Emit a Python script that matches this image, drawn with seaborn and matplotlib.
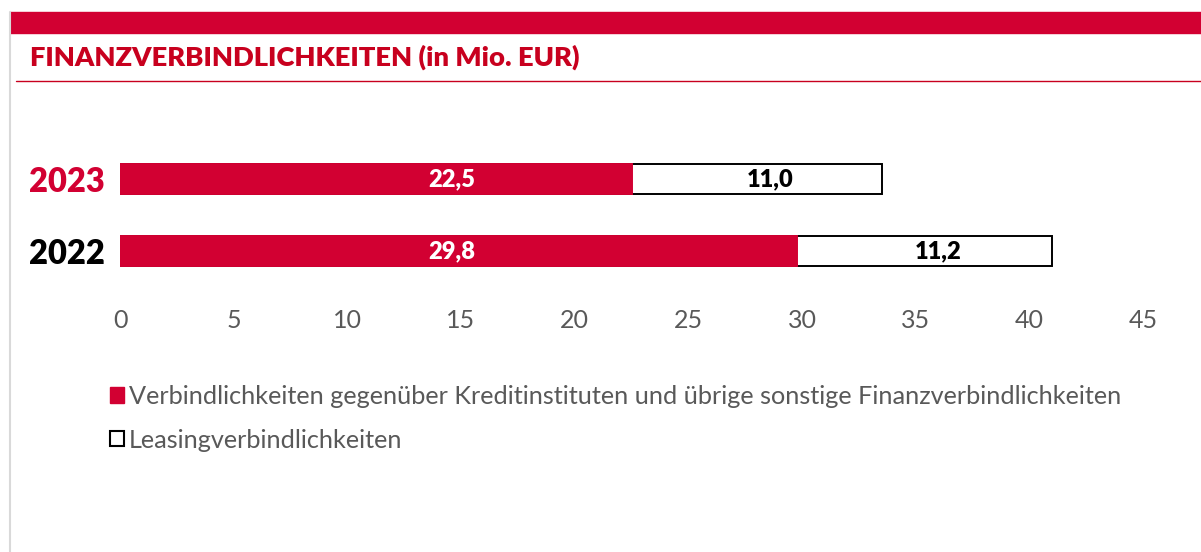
"""Finanzverbindlichkeiten stacked bar chart."""
import matplotlib
matplotlib.use('Agg')
import matplotlib.pyplot as plt
from matplotlib.patches import Patch, Rectangle
from matplotlib.lines import Line2D
import pandas as pd
import seaborn as sns

# data
years = ['2023', '2022']
kredit = [22.5, 29.8]
leasing = [11.0, 11.2]
x_ticks = [0, 5, 10, 15, 20, 25, 30, 35, 40, 45]
legend_labels = [
    'Verbindlichkeiten gegenüber Kreditinstituten und übrige sonstige Finanzverbindlichkeiten',
    'Leasingverbindlichkeiten',
]
title = 'FINANZVERBINDLICHKEITEN (in Mio. EUR)'

RED = '#D20032'
DARK_RED = '#C8001E'
GRAY = '#595959'

sns.set_theme(style='white')
plt.rcParams['font.family'] = ['Lato', 'DejaVu Sans']

W, H = 1201, 552
fig = plt.figure(figsize=(W / 100, H / 100), dpi=100)
ax = fig.add_axes([120 / W, 1 - 290 / H, 1023 / W, 150 / H])

df = pd.DataFrame({'year': years, 'kredit': kredit, 'leasing': leasing})
df['total'] = df['kredit'] + df['leasing']

# white leasing part drawn as total, red part on top
sns.barplot(data=df, y='year', x='total', orient='h', color='white',
            edgecolor='black', linewidth=1.4, width=0.42, ax=ax, saturation=1)
sns.barplot(data=df, y='year', x='kredit', orient='h', color=RED,
            edgecolor=RED, linewidth=1.4, width=0.42, ax=ax, saturation=1)

for i, (k, l) in enumerate(zip(kredit, leasing)):
    ax.text(14.6, i, f'{k:.1f}'.replace('.', ','), ha='center', va='center',
            color='white', fontsize=17, fontweight='heavy')
    ax.text(k + l / 2 + 0.6, i, f'{l:.1f}'.replace('.', ','), ha='center', va='center',
            color='black', fontsize=17, fontweight='heavy')

ax.set_xlim(0, 45)
ax.set_ylim(1.5417, -0.5417)
ax.set_xticks(x_ticks)
ax.set_xticklabels([str(t) for t in x_ticks])
ax.tick_params(axis='x', length=0, pad=14, labelsize=18, labelcolor=GRAY)
ax.tick_params(axis='y', length=0, pad=11, labelsize=23.5)
for lbl, c in zip(ax.get_yticklabels(), [RED, 'black']):
    lbl.set_color(c)
    lbl.set_fontweight('heavy')
ax.set_xlabel('')
ax.set_ylabel('')
sns.despine(ax=ax, left=True, bottom=True)
ax.grid(False)

# decorations: top banner, left border, rule under title
fig.patches.append(Rectangle((10 / W, 1 - 33 / H), 1 - 10 / W, 21 / H,
                             transform=fig.transFigure, color=RED, zorder=0))
fig.lines.append(Line2D([9.5 / W, 9.5 / W], [0, 1 - 12 / H],
                        transform=fig.transFigure, color='#D9D9D9', lw=1.5))
fig.lines.append(Line2D([16 / W, 1], [1 - 81 / H, 1 - 81 / H],
                        transform=fig.transFigure, color=DARK_RED, lw=1))
fig.text(30 / W, 1 - 57 / H, title, ha='left', va='center', fontsize=19.7,
         fontweight='heavy', color=DARK_RED)

handles = [Patch(facecolor=RED, edgecolor=RED),
           Patch(facecolor='white', edgecolor='black', linewidth=1.5)]
fig.legend(handles, legend_labels, loc='upper left',
           bbox_to_anchor=(110 / W, 1 - 385 / H), frameon=False,
           fontsize=18.15, labelcolor=GRAY, handlelength=0.56, handleheight=0.56,
           handletextpad=0.2, labelspacing=0.82, borderpad=0, borderaxespad=0)

fig.savefig('out.png', dpi=100)
